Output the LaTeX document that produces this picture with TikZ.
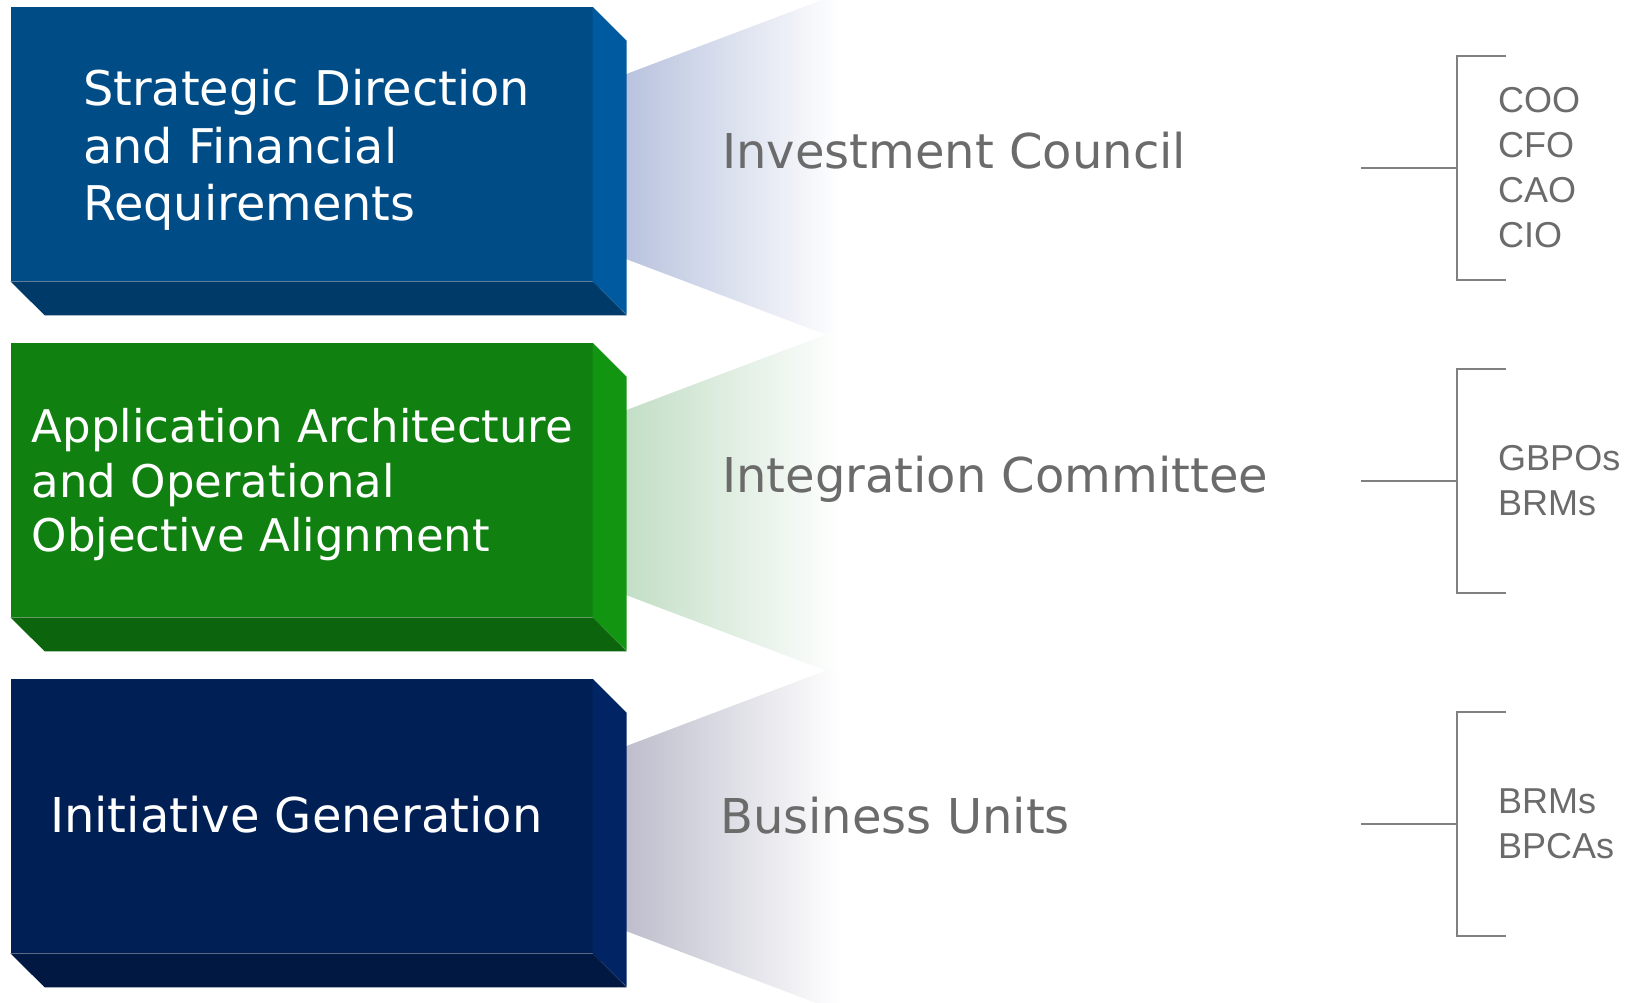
\documentclass[tikz,border=0pt]{standalone}
\usepackage{fontspec}
\setmainfont{DejaVu Sans}
\newfontfamily\rolefont{Liberation Sans}
\usepackage{tikz}
\usetikzlibrary{calc,positioning}

\definecolor{icFront}{HTML}{004C87}
\definecolor{icSide}{HTML}{005AA0}
\definecolor{icBottom}{HTML}{003A68}
\definecolor{icFan}{RGB}{185,195,222}
\definecolor{ocFront}{HTML}{108010}
\definecolor{ocSide}{HTML}{129612}
\definecolor{ocBottom}{HTML}{0C640C}
\definecolor{ocFan}{RGB}{195,222,198}
\definecolor{buFront}{HTML}{001F55}
\definecolor{buSide}{HTML}{002464}
\definecolor{buBottom}{HTML}{001842}
\definecolor{buFan}{RGB}{190,190,205}
\definecolor{labelGray}{HTML}{6B6B6B}
\definecolor{lineGray}{HTML}{808080}

\begin{document}
\begin{tikzpicture}[x=1pt,y=1pt,on grid]
	\tikzstyle{face}=[rectangle,inner sep=0,minimum width=582pt,minimum height=274pt]
	\tikzstyle{boxtext}=[white,inner sep=0,align=left,anchor=base west]
	\tikzstyle{council}=[labelGray,inner sep=0,anchor=base west,font=\fontsize{48}{57}\selectfont]
	\tikzstyle{roles}=[labelGray,inner sep=0,align=left,anchor=west,font=\rolefont\fontsize{36}{45}\selectfont]
	\tikzstyle{bracket}=[lineGray,line width=2pt]
	
	\clip (0,0) rectangle (1635,1002);
	
	%
	% front faces
	%
	\node [face,fill=icFront] (strategic) at (301.5,857.9) {};
	\node [face,fill=ocFront,below=336 of strategic] (alignment) {};
	\node [face,fill=buFront,below=336 of alignment] (initiative) {};
	
	%
	% fans behind the boxes
	%
	\shade [left color=icFan,middle color=icFan!28,right color=white]
		($(strategic.north east)+(34,-67)$) -- ++(214,81) -- ($(strategic.south east)+(248,-59)$) -- ($(strategic.south east)+(34,22)$) -- cycle;
	\shade [left color=ocFan,middle color=ocFan!28,right color=white]
		($(alignment.north east)+(34,-67)$) -- ++(214,81) -- ($(alignment.south east)+(248,-59)$) -- ($(alignment.south east)+(34,22)$) -- cycle;
	\shade [left color=buFan,middle color=buFan!28,right color=white]
		($(initiative.north east)+(34,-67)$) -- ++(214,81) -- ($(initiative.south east)+(248,-59)$) -- ($(initiative.south east)+(34,22)$) -- cycle;
	
	%
	% side and bottom faces
	%
	\fill [icSide] (strategic.north east) -- ++(34,-34) -- ++(0,-274) -- (strategic.south east) -- cycle;
	\fill [icBottom] (strategic.south west) -- (strategic.south east) -- ++(34,-34) -- ++(-582,0) -- cycle;
	\fill [ocSide] (alignment.north east) -- ++(34,-34) -- ++(0,-274) -- (alignment.south east) -- cycle;
	\fill [ocBottom] (alignment.south west) -- (alignment.south east) -- ++(34,-34) -- ++(-582,0) -- cycle;
	\fill [buSide] (initiative.north east) -- ++(34,-34) -- ++(0,-274) -- (initiative.south east) -- cycle;
	\fill [buBottom] (initiative.south west) -- (initiative.south east) -- ++(34,-34) -- ++(-582,0) -- cycle;
	
	%
	% box texts
	%
	\node [boxtext,font=\fontsize{47.8}{57.5}\selectfont] (strategic-text) at ($(strategic.north west)+(72.5,-213.7)$)
		{Strategic Direction\\and Financial\\Requirements};
	\node [boxtext,font=\fontsize{45}{54.5}\selectfont] (alignment-text) at ($(alignment.north west)+(21.3,-208.7)$)
		{Application Architecture\\and Operational\\Objective Alignment};
	\node [boxtext,font=\fontsize{48}{57}\selectfont] (initiative-text) at ($(initiative.north west)+(39.5,-153.4)$)
		{Initiative Generation};
	
	%
	% councils
	%
	\node [council] (investment) at (722,833.7) {Investment Council};
	\node [council] (integration) at (722,509) {Integration Committee};
	\node [council] (business) at (720,169) {Business Units};
	
	%
	% member brackets
	%
	\coordinate (ic-stub) at (1361,834);
	\coordinate (ic-joint) at (1457,834);
	\coordinate (ic-top) at (1506,946);
	\coordinate (ic-bot) at (1506,722);
	\node [roles] (ic-roles) at (1498,834) {COO\\CFO\\CAO\\CIO};
	
	\coordinate (oc-stub) at (1361,521);
	\coordinate (oc-joint) at (1457,521);
	\coordinate (oc-top) at (1506,633);
	\coordinate (oc-bot) at (1506,409);
	\node [roles] (oc-roles) at (1498,521) {GBPOs\\BRMs};
	
	\coordinate (bu-stub) at (1361,178);
	\coordinate (bu-joint) at (1457,178);
	\coordinate (bu-top) at (1506,290);
	\coordinate (bu-bot) at (1506,66);
	\node [roles] (bu-roles) at (1498,178) {BRMs\\BPCAs};
	
	\begin{scope}[bracket]
		\draw (ic-top) -| (ic-joint) |- (ic-bot);
		\draw (ic-stub) -- (ic-joint);
		\draw (oc-top) -| (oc-joint) |- (oc-bot);
		\draw (oc-stub) -- (oc-joint);
		\draw (bu-top) -| (bu-joint) |- (bu-bot);
		\draw (bu-stub) -- (bu-joint);
	\end{scope}
	
\end{tikzpicture}
\end{document}
